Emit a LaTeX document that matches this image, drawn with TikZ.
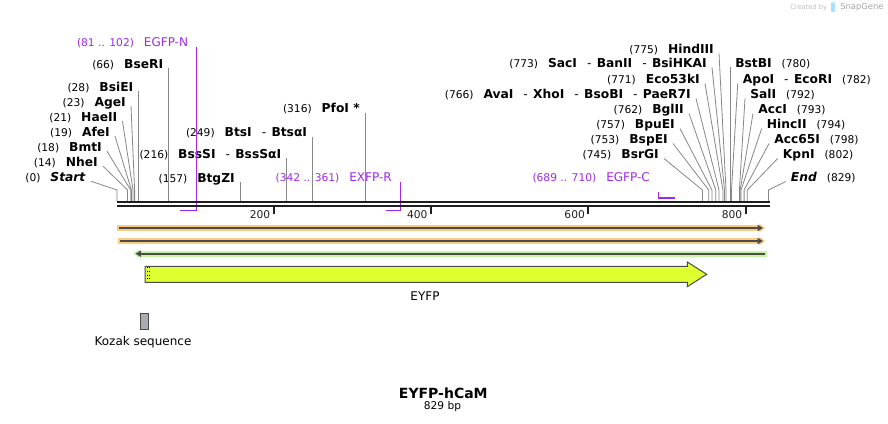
\documentclass[tikz,border=0pt]{standalone}
\usepackage{fontspec}
\setmainfont{DejaVu Sans}
\usetikzlibrary{arrows.meta}

\definecolor{cutgray}{RGB}{135,135,135}
\definecolor{mapblack}{RGB}{30,30,30}
\definecolor{primerpurple}{RGB}{160,40,235}
\definecolor{bandorange}{RGB}{250,204,128}
\definecolor{bandgreen}{RGB}{195,243,163}
\definecolor{coregray}{RGB}{75,75,75}
\definecolor{eyfpfill}{RGB}{224,255,48}
\definecolor{kozakfill}{RGB}{168,173,180}

\newcommand{\cutnum}[1]{{\fontsize{8pt}{9pt}\selectfont #1}}
\newcommand{\lblgap}{\hspace{7.5pt}}
\newcommand{\alsocut}{\hspace{7.5pt}{\mdseries -}\hspace{4pt}}

\tikzset{
  enzl/.style={anchor=base east, inner xsep=3.75pt, inner ysep=0pt,
    font=\fontsize{9.2pt}{10pt}\selectfont},
  enzr/.style={enzl, anchor=base west},
  primerlbl/.style={anchor=base east, inner xsep=6.3pt, inner ysep=0pt,
    text=primerpurple, font=\fontsize{9pt}{10pt}\selectfont},
  cutline/.style={draw=cutgray, line width=0.6pt},
  primerline/.style={draw=primerpurple, line width=1.15pt},
  mapline/.style={draw=mapblack, line width=1.65pt},
  maptick/.style={draw=mapblack, line width=1.5pt},
  ticklbl/.style={anchor=east, inner sep=0pt, text=mapblack,
    font=\fontsize{8pt}{9pt}\selectfont},
  band/.style={line width=4.5pt, -{Triangle[length=4.5pt,width=6.5pt]}},
  bandcore/.style={draw=coregray, line width=1.3pt, -{Triangle[length=4pt,width=4.5pt]}},
}

\begin{document}
\begin{tikzpicture}[x=0.75pt, y=-0.75pt]
  \useasboundingbox (0,0) rectangle (888,424);
  \fill[white] (0,0) rectangle (888,424);

  % Created by SnapGene
  \node[anchor=base west, inner sep=0pt, text=black!25, font=\fontsize{5pt}{6pt}\selectfont] (credit) at (790,9.5) {Created by};
  \fill[cyan!35!white, rounded corners=0.6pt] (831,2.5) rectangle (835,12);
  \node[anchor=base west, inner sep=0pt, text=black!35, font=\fontsize{6.3pt}{7pt}\selectfont] (brand) at (840,10) {SnapGene};

  \coordinate (fanlvl) at (0,190);

  % Cut sites, left
  \coordinate (s0) at (117,201);     \coordinate (s14) at (127.5,201);  \coordinate (s18) at (130.7,201);
  \coordinate (s19) at (131.4,201);  \coordinate (s21) at (133,201);    \coordinate (s23) at (134.6,201);
  \coordinate (s28) at (138.5,201);  \coordinate (s66) at (168.4,201);  \coordinate (s157) at (240,201);
  \coordinate (s216) at (286.4,201); \coordinate (s249) at (312.3,201); \coordinate (s316) at (365,201);

  \node[enzl] (startlbl) at (91,181.2) {\cutnum{(0)}\lblgap\textbf{\textit{Start}}};
  \node[enzl] (nheI) at (103,166.2) {\cutnum{(14)}\lblgap\textbf{NheI}};
  \node[enzl] (bmtI) at (107,151.2) {\cutnum{(18)}\lblgap\textbf{BmtI}};
  \node[enzl] (afeI) at (115,136.2) {\cutnum{(19)}\lblgap\textbf{AfeI}};
  \node[enzl] (haeII) at (122.5,121.2) {\cutnum{(21)}\lblgap\textbf{HaeII}};
  \node[enzl] (ageI) at (131,106.2) {\cutnum{(23)}\lblgap\textbf{AgeI}};
  \node[enzl] (bsiEI) at (138.5,91.2) {\cutnum{(28)}\lblgap\textbf{BsiEI}};
  \node[enzl] (bseRI) at (168.4,68.5) {\cutnum{(66)}\lblgap\textbf{BseRI}};
  \node[enzl] (btgZI) at (240,182) {\cutnum{(157)}\lblgap\textbf{BtgZI}};
  \node[enzl] (bssSI) at (286.4,158) {\cutnum{(216)}\lblgap\textbf{BssSI}\alsocut\textbf{BssSαI}};
  \node[enzl] (btsI) at (312.3,137) {\cutnum{(249)}\lblgap\textbf{BtsI}\alsocut\textbf{BtsαI}};
  \node[enzl] (pfoI) at (365,113) {\cutnum{(316)}\lblgap\textbf{PfoI *}};

  \draw[cutline] (startlbl.base east) -- (s0 |- fanlvl) -- (s0);
  \draw[cutline] (nheI.base east) -- (s14 |- fanlvl) -- (s14);
  \draw[cutline] (bmtI.base east) -- (s18 |- fanlvl) -- (s18);
  \draw[cutline] (afeI.base east) -- (s19 |- fanlvl) -- (s19);
  \draw[cutline] (haeII.base east) -- (s21 |- fanlvl) -- (s21);
  \draw[cutline] (ageI.base east) -- (s23 |- fanlvl) -- (s23);
  \draw[cutline] (bsiEI.base east) -- (s28);
  \draw[cutline] (bseRI.base east) -- (s66);
  \draw[cutline] (btgZI.base east) -- (s157);
  \draw[cutline] (bssSI.base east) -- (s216);
  \draw[cutline] (btsI.base east) -- (s249);
  \draw[cutline] (pfoI.base east) -- (s316);

  % Cut sites, right
  \coordinate (s745) at (702.4,201); \coordinate (s753) at (708.7,201); \coordinate (s757) at (711.9,201);
  \coordinate (s762) at (715.8,201); \coordinate (s766) at (719,201);   \coordinate (s771) at (722.9,201);
  \coordinate (s773) at (724.5,201); \coordinate (s775) at (726,201);   \coordinate (s780) at (730,201);
  \coordinate (s782) at (731.5,201); \coordinate (s792) at (739.4,201); \coordinate (s793) at (740.2,201);
  \coordinate (s794) at (741,201);   \coordinate (s798) at (744.1,201); \coordinate (s802) at (747.3,201);
  \coordinate (s829) at (768.5,201);

  \node[enzl] (hindIII) at (719,53.5) {\cutnum{(775)}\lblgap\textbf{HindIII}};
  \node[enzl] (sacI) at (712,67.5) {\cutnum{(773)}\lblgap\textbf{SacI}\alsocut\textbf{BanII}\alsocut\textbf{BsiHKAI}};
  \node[enzl] (eco53kI) at (705,83.5) {\cutnum{(771)}\lblgap\textbf{Eco53kI}};
  \node[enzl] (avaI) at (696,98.5) {\cutnum{(766)}\lblgap\textbf{AvaI}\alsocut\textbf{XhoI}\alsocut\textbf{BsoBI}\alsocut\textbf{PaeR7I}};
  \node[enzl] (bglII) at (689,113.5) {\cutnum{(762)}\lblgap\textbf{BglII}};
  \node[enzl] (bpuEI) at (680,128.5) {\cutnum{(757)}\lblgap\textbf{BpuEI}};
  \node[enzl] (bspEI) at (673,143.5) {\cutnum{(753)}\lblgap\textbf{BspEI}};
  \node[enzl] (bsrGI) at (664,158.5) {\cutnum{(745)}\lblgap\textbf{BsrGI}};
  \node[enzr] (bstBI) at (730,67.5) {\textbf{BstBI}\lblgap\cutnum{(780)}};
  \node[enzr] (apoI) at (737.7,83.5) {\textbf{ApoI}\alsocut\textbf{EcoRI}\lblgap\cutnum{(782)}};
  \node[enzr] (salI) at (745,98.5) {\textbf{SalI}\lblgap\cutnum{(792)}};
  \node[enzr] (accI) at (753,113.5) {\textbf{AccI}\lblgap\cutnum{(793)}};
  \node[enzr] (hincII) at (761.7,128.5) {\textbf{HincII}\lblgap\cutnum{(794)}};
  \node[enzr] (acc65I) at (769,143.5) {\textbf{Acc65I}\lblgap\cutnum{(798)}};
  \node[enzr] (kpnI) at (777.7,158.5) {\textbf{KpnI}\lblgap\cutnum{(802)}};
  \node[enzr] (endlbl) at (785.7,181.5) {\textbf{\textit{End}}\lblgap\cutnum{(829)}};

  \draw[cutline] (hindIII.base east) -- (s775 |- fanlvl) -- (s775);
  \draw[cutline] (sacI.base east) -- (s773 |- fanlvl) -- (s773);
  \draw[cutline] (eco53kI.base east) -- (s771 |- fanlvl) -- (s771);
  \draw[cutline] (avaI.base east) -- (s766 |- fanlvl) -- (s766);
  \draw[cutline] (bglII.base east) -- (s762 |- fanlvl) -- (s762);
  \draw[cutline] (bpuEI.base east) -- (s757 |- fanlvl) -- (s757);
  \draw[cutline] (bspEI.base east) -- (s753 |- fanlvl) -- (s753);
  \draw[cutline] (bsrGI.base east) -- (s745 |- fanlvl) -- (s745);
  \draw[cutline] (bstBI.base west) -- (s780 |- fanlvl) -- (s780);
  \draw[cutline] (apoI.base west) -- (s782 |- fanlvl) -- (s782);
  \draw[cutline] (salI.base west) -- (s792 |- fanlvl) -- (s792);
  \draw[cutline] (accI.base west) -- (s793 |- fanlvl) -- (s793);
  \draw[cutline] (hincII.base west) -- (s794 |- fanlvl) -- (s794);
  \draw[cutline] (acc65I.base west) -- (s798 |- fanlvl) -- (s798);
  \draw[cutline] (kpnI.base west) -- (s802 |- fanlvl) -- (s802);
  \draw[cutline] (endlbl.base west) -- (s829 |- fanlvl) -- (s829);

  % Primers
  \node[primerlbl] (egfpN) at (196.7,46.8) {\cutnum{(81 .. 102)}\lblgap EGFP-N};
  \node[primerlbl] (exfpR) at (400.4,181.8) {\cutnum{(342 .. 361)}\lblgap EXFP-R};
  \node[primerlbl] (egfpC) at (658.4,181.2) {\cutnum{(689 .. 710)}\lblgap EGFP-C};
  \coordinate (pN) at (180.2,210.5);
  \coordinate (pR) at (385.5,210.5);
  \coordinate (pC0) at (658.4,192);
  \coordinate (pC) at (674.9,198);
  \draw[primerline] (egfpN.base east) -- (egfpN.base east |- pN) -- (pN);
  \draw[primerline] (exfpR.base east) -- (exfpR.base east |- pR) -- (pR);
  \draw[primerline] (pC0) -- (pC0 |- pC) -- (pC);

  % Map and ticks
  \draw[mapline] (116.5,202.2) -- (770,202.2);
  \draw[mapline] (116.5,206.1) -- (770,206.1);
  \draw[maptick] (273.8,207) -- (273.8,213.5);
  \draw[maptick] (431.1,207) -- (431.1,213.5);
  \draw[maptick] (588.4,207) -- (588.4,213.5);
  \draw[maptick] (745.7,207) -- (745.7,213.5);
  \node[ticklbl] (t200) at (270.5,214.5) {200};
  \node[ticklbl] (t400) at (427.8,214.5) {400};
  \node[ticklbl] (t600) at (585.1,214.5) {600};
  \node[ticklbl] (t800) at (742.4,214.5) {800};

  % Feature bands
  \draw[band, draw=bandorange] (116.7,228) -- (765,228);
  \draw[bandcore] (119,228) -- (763,228);
  \draw[band, draw=bandorange] (118.3,241) -- (765,241);
  \draw[bandcore] (120,241) -- (763,241);
  \draw[band, draw=bandgreen] (766.7,253.7) -- (133.3,253.7);
  \draw[bandcore] (765,253.7) -- (135.5,253.7);

  % EYFP
  \draw[draw=coregray, fill=eyfpfill, line width=0.75pt] (145,266.3) -- (687.3,266.3) -- (687.3,262)
    -- (706.7,274.3) -- (687.3,286.7) -- (687.3,282.3) -- (145,282.3) -- cycle;
  \draw[dotted, line width=0.7pt] (147.2,267.3) -- (147.2,281.3);
  \draw[dotted, line width=0.7pt] (149.2,267.3) -- (149.2,281.3);
  \node[font=\fontsize{9pt}{10pt}\selectfont] (eyfp) at (425,296) {EYFP};

  % Kozak
  \draw[draw=coregray, fill=kozakfill, line width=0.6pt] (140.3,313.3) rectangle (148.7,329.3);
  \node[font=\fontsize{9pt}{10pt}\selectfont] (kozak) at (143,342) {Kozak sequence};

  % Name
  \node[font=\bfseries\fontsize{10.5pt}{12pt}\selectfont] (title) at (443.3,393.3) {EYFP-hCaM};
  \node[font=\fontsize{8pt}{9pt}\selectfont] (size) at (442.5,406.5) {829 bp};
\end{tikzpicture}
\end{document}
